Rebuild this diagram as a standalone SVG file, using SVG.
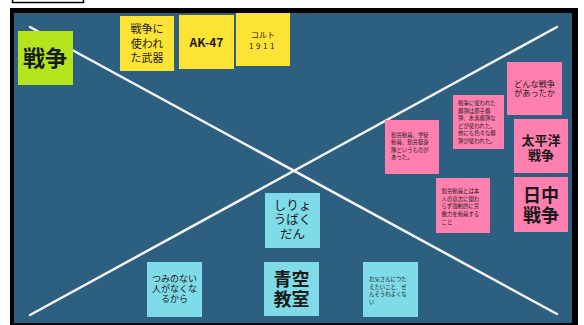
<svg xmlns="http://www.w3.org/2000/svg" width="584" height="325" viewBox="0 0 584 325">
<style>
text{font-family:"Noto Sans CJK JP","Noto Sans",sans-serif;fill:#1a1a1a;text-anchor:middle}
.y{fill:#fde434}.p{fill:#ff80ae}.c{fill:#80dbe8}.g{fill:#b4e51c}
.s{font-size:5.4px;text-anchor:start}
.ln{stroke:#f4f4f4;stroke-width:2.5;stroke-linecap:round}
</style>
<rect width="584" height="325" fill="#ffffff"/>
<rect x="12.5" y="-4" width="71" height="6.5" fill="#ffffff" stroke="#000" stroke-width="1.5"/>
<rect x="10" y="8" width="568" height="320" fill="#000"/>
<rect x="14" y="13" width="558" height="310" fill="#2d5f80"/>
<g id="connectors">
<line class="ln" x1="30" y1="27" x2="557" y2="314"/>
<line class="ln" x1="30" y1="315" x2="557" y2="27"/>
</g>
<g id="n-sensou"><rect class="g" x="18" y="31" width="55" height="54"/><text x="45" y="66" font-size="22" font-weight="bold">戦争</text></g>
<g id="n-buki"><rect class="y" x="120" y="16" width="54" height="55"/><text x="147" y="33" font-size="11"><tspan x="147">戦争に</tspan><tspan x="147" dy="14.5">使われ</tspan><tspan x="147" dy="14.5">た武器</tspan></text></g>
<g id="n-ak47"><rect class="y" x="179" y="15" width="55" height="54"/><text x="206.5" y="47.3" font-size="12" font-weight="bold">AK-47</text></g>
<g id="n-colt"><rect class="y" x="236" y="13" width="54" height="53"/><text x="263" y="38" font-size="8" fill="#444"><tspan x="263">コルト</tspan><tspan x="263" dy="11" letter-spacing="2.5">1911</tspan></text></g>
<g id="n-donna"><rect class="p" x="507" y="62" width="55" height="53"/><text x="534.5" y="86.5" font-size="8.2"><tspan x="534.5">どんな戦争</tspan><tspan x="534.5" dy="9.5">があったか</tspan></text></g>
<g id="n-bakudan"><rect class="p" x="453" y="95" width="51" height="54"/>
<text class="s" x="458" y="105"><tspan x="458">戦争に使われた</tspan><tspan x="458" dy="7.5">爆弾は原子爆</tspan><tspan x="458" dy="7.5">弾、水素爆弾な</tspan><tspan x="458" dy="7.5">どが使われた。</tspan><tspan x="458" dy="7.5">他にも色々な爆</tspan><tspan x="458" dy="7.5">弾が使われた。</tspan></text></g>
<g id="n-kinrou"><rect class="p" x="385" y="120" width="54" height="54"/>
<text class="s" x="391" y="136.5"><tspan x="391">勤労動員、学徒</tspan><tspan x="391" dy="7.5">動員、勤労挺身</tspan><tspan x="391" dy="7.5">隊というものが</tspan><tspan x="391" dy="7.5">あった。</tspan></text></g>
<g id="n-kinrou2"><rect class="p" x="436" y="178" width="54" height="55"/>
<text class="s" x="441.5" y="193"><tspan x="441.5">勤労動員とは本</tspan><tspan x="441.5" dy="7.7">人の意志に関わ</tspan><tspan x="441.5" dy="7.7">らず強制的に労</tspan><tspan x="441.5" dy="7.7">働力を動員する</tspan><tspan x="441.5" dy="7.7">こと</tspan></text></g>
<g id="n-taiheiyou"><rect class="p" x="514" y="119" width="54" height="54"/><text x="541" y="144.5" font-size="13" font-weight="bold"><tspan x="541">太平洋</tspan><tspan x="541" dy="15">戦争</tspan></text></g>
<g id="n-nicchuu"><rect class="p" x="514" y="177" width="54" height="55"/><text x="541" y="201.5" font-size="18" font-weight="bold"><tspan x="541">日中</tspan><tspan x="541" dy="20">戦争</tspan></text></g>
<g id="n-shiryou"><rect class="c" x="265" y="193" width="55" height="55"/><text x="292.5" y="209.5" font-size="12.5"><tspan x="292.5">しりょ</tspan><tspan x="292.5" dy="14.7">うばく</tspan><tspan x="292.5" dy="14.7">だん</tspan></text></g>
<g id="n-aozora"><rect class="c" x="264" y="262" width="55" height="54"/><text x="291.5" y="285.5" font-size="18" font-weight="bold"><tspan x="291.5">青空</tspan><tspan x="291.5" dy="20">教室</tspan></text></g>
<g id="n-tsumi"><rect class="c" x="147" y="262" width="55" height="55"/><text x="174.5" y="282.2" font-size="9"><tspan x="174.5">つみのない</tspan><tspan x="174.5" dy="10">人がなくな</tspan><tspan x="174.5" dy="10">るから</tspan></text></g>
<g id="n-otousan"><rect class="c" x="363" y="262" width="55" height="55"/>
<text class="s" x="369" y="281"><tspan x="369">お父さんにつた</tspan><tspan x="369" dy="7.7">えたいこと、せ</tspan><tspan x="369" dy="7.7">んそうわよくな</tspan><tspan x="369" dy="7.7">い</tspan></text></g>
</svg>
